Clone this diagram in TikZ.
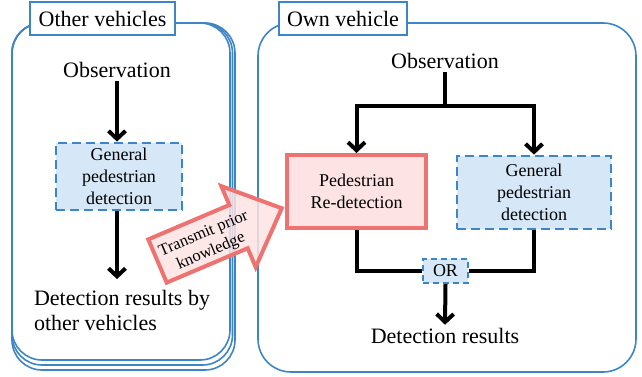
\documentclass[tikz,border=0pt]{standalone}
\usepackage{fontspec}
\setmainfont{Liberation Serif}
\usetikzlibrary{arrows.meta}

\definecolor{panelblue}{RGB}{61,133,198}
\definecolor{boxblue}{RGB}{214,232,247}
\definecolor{redline}{RGB}{238,115,112}
\definecolor{redfill}{RGB}{253,227,227}

\tikzset{
    big/.style={font=\fontsize{22}{25}\selectfont},
    small/.style={font=\fontsize{18}{22}\selectfont},
    genbox/.style={small, draw=panelblue, fill=boxblue, line width=2.8pt, dash pattern=on 9pt off 5pt, align=center, inner sep=0pt},
    redbox/.style={small, draw=redline, fill=redfill, line width=4pt, align=center, inner sep=0pt},
    labelbox/.style={big, draw=panelblue, fill=white, line width=1.6pt, inner sep=0pt},
    panel/.style={draw=panelblue, line width=1.6pt},
    wire/.style={line width=4pt},
    flow/.style={line width=4pt, -{Straight Barb[length=8pt,width=17pt]}}
}

\begin{document}
\begin{tikzpicture}[x=1pt, y=-1pt]
            \useasboundingbox (0,0) rectangle (642,377);

            \draw[panel, rounded corners=30pt] (12,23) rectangle (235,370);
            \draw[panel, rounded corners=30pt] (12,23) rectangle (232.5,365);
            \draw[panel, rounded corners=30pt] (12,23) rectangle (230,360);
            \draw[panel, rounded corners=33pt] (258,23) rectangle (636,372);

            \begin{scope}[shift={(157.5,261)}, rotate=23]
                \draw[draw=redline, fill=redfill, fill opacity=0.85, line width=4pt, line join=miter] (0,-23.5) -- (88,-23.5) -- (88,-44) -- (135,0) -- (88,44) -- (88,23.5) -- (0,23.5) -- cycle;
                \node[transform shape, align=center, inner sep=0pt, font=\fontsize{16.5}{19}\selectfont] (transmit) at (53,3) {Transmit prior\\knowledge};
            \end{scope}

            \node[labelbox, minimum width=145pt, minimum height=33pt] (otherlabel) at (102.5,18.5) {Other vehicles};
            \node[labelbox, minimum width=128pt, minimum height=33pt] (ownlabel) at (343,18.5) {Own vehicle};

            \node[big] (obsL) at (117,70) {Observation};
            \node[genbox, minimum width=126pt, minimum height=67pt] (genL) at (119,176.5) {General\\pedestrian\\detection};
            \node[big, align=left, inner sep=2pt] (resL) at (122,310.5) {Detection results by\\other vehicles};
            \draw[flow] (obsL.south) -- (obsL.south |- genL.north);
            \draw[flow, shorten >=9pt] (genL.south -| obsL.south) -- (obsL.south |- resL.north);

            \node[big] (obsR) at (445,61) {Observation};
            \coordinate (split) at (445,106);
            \node[redbox, minimum width=139pt, minimum height=73pt] (pedR) at (356.5,191.5) {Pedestrian\\Re-detection};
            \node[genbox, minimum width=154pt, minimum height=73pt] (genR) at (534,192.5) {General\\pedestrian\\detection};
            \node[genbox, line width=2.4pt, dash pattern=on 6pt off 4pt, minimum width=45pt, minimum height=24pt] (orR) at (445.5,271) {OR};
            \node[big] (resR) at (445,336) {Detection results};

            \draw[wire] (obsR.south) -- (split);
            \draw[flow] (split) -| (pedR.north);
            \draw[flow] (split) -| (genR.north);
            \draw[wire] (pedR.south) |- (orR.west);
            \draw[wire] (genR.south) |- (orR.east);
            \draw[flow] (orR.south) -- (resR.north);
        \end{tikzpicture}
\end{document}
